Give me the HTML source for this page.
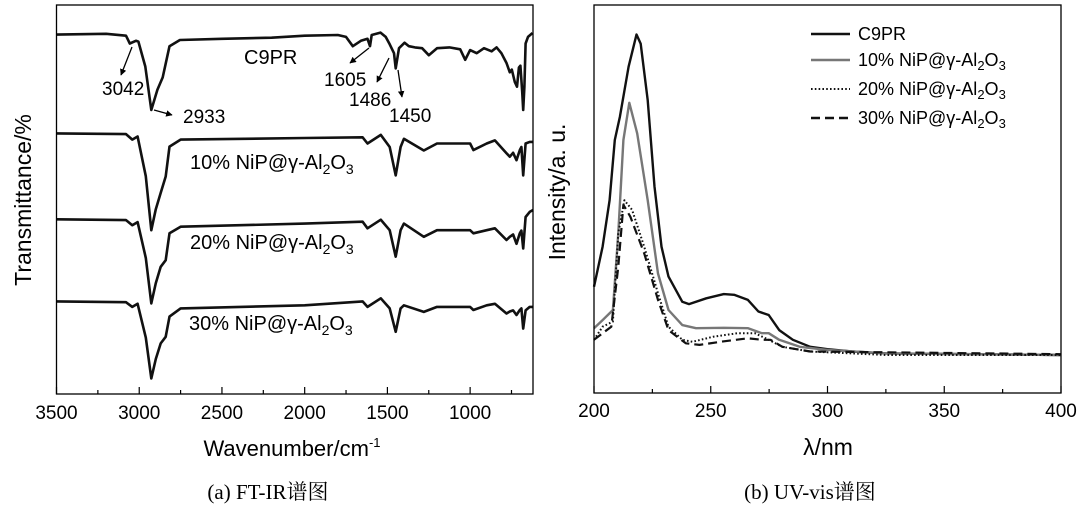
<!DOCTYPE html>
<html><head><meta charset="utf-8">
<style>
html,body{margin:0;padding:0;background:#fff;}
svg{display:block;font-family:"Liberation Sans","Noto Sans CJK SC",sans-serif;}
.cap{font-family:"Liberation Serif","Noto Serif CJK SC",serif;}
</style></head>
<body>
<svg id="fig" width="1083" height="511" viewBox="0 0 1083 511">
  <g id="ir"></g>
  <g id="uv"></g>
</svg>
<script>
// ---------- FT-IR data ----------
const irTicks = [3500,3000,2500,2000,1500,1000];
const irWn0 = [3500,3200,3080,3057,3020,3005,2963,2927,2890,2858,2817,2754,2500,2200,2000,1800,1750,1709,1660,1620,1605,1595,1542,1510,1486,1460,1450,1430,1396,1370,1334,1290,1250,1200,1125,1060,1030,1000,960,916,870,840,811,780,760,748,730,717,705,696,685,679,672,665,650,623];
const irC9PR = [92.4,92.6,92.1,90.1,90.8,90.6,84.2,73.0,78.2,81.4,89.4,91.0,91.3,91.6,92.1,92.3,91.8,89.4,90.8,91.3,89.4,92.3,92.9,91.8,89.9,87.6,83.7,88.9,90.3,89.4,89.1,88.9,87.1,88.9,89.1,88.6,85.9,88.4,87.6,88.9,88.1,89.1,87.6,85.1,82.7,83.4,80.2,79.0,83.9,84.4,77.7,73.0,79.0,90.1,91.8,92.8];
const irWn1 = [3500,3080,3042,3010,2960,2927,2900,2870,2840,2817,2750,2000,1650,1620,1540,1486,1450,1420,1400,1280,1200,1000,980,900,850,780,760,740,720,700,690,679,665,640,620];
const ir10 = [67.0,66.8,65.4,66.2,56.0,42.1,47.5,51.7,55.9,63.6,65.4,65.8,66.0,64.4,66.6,63.5,56.2,63.5,65.6,62.6,64.4,64.4,62.7,64.4,65.2,61.9,61.0,62.0,60.1,62.7,63.5,56.2,64.4,64.8,64.8];
const ir20 = [44.9,44.7,43.4,44.2,35.0,23.3,28.5,32.7,34.4,41.3,43.0,43.8,44.3,42.6,44.8,42.1,35.3,42.1,43.8,40.4,42.1,42.1,41.3,42.1,42.6,39.6,40.4,41.0,38.6,41.3,42.0,37.4,45.5,46.8,47.3];
const ir30 = [23.8,23.6,22.4,23.2,14.5,4.0,9.0,13.0,14.7,19.9,22.0,22.8,23.8,22.4,24.6,22.0,16.0,22.0,22.8,21.1,22.4,22.4,21.6,22.8,23.2,20.7,21.2,21.5,20.3,21.6,22.0,16.8,21.5,22.4,22.4];

// ---------- UV-vis data ----------
const uvTicks = [200,250,300,350,400];
const uvWl0 = [200,203.7,206.7,208.9,211.1,214.8,218.2,220,223,225.9,228.9,231.9,237.8,240.7,248.1,255.6,260,265.9,270.4,274.8,279.3,285.2,292.6,300,310.4,325.2,400];
const uvC9PR = [27.4,37.7,49.7,65.2,71.2,84.1,92.4,90,75.5,53.2,37.7,30,23.5,22.9,24.4,25.5,25.3,24,21,20.1,16.2,13.7,11.9,11.3,10.7,10.2,9.8];
const uvWl1 = [200,203.7,208.1,210.4,212.6,215.1,218.5,223,227.4,231.9,237.8,243.7,255.6,266,271.9,274.8,279.3,288.1,300,325.2,400];
const uv10 = [16.7,18.8,21.4,41.2,65.2,74.8,66.9,49.7,30.8,21.4,17.5,16.7,16.8,16.7,15.4,15.4,13.7,11.9,11.1,10.2,9.8];
const uvWl2 = [200,203.7,208.1,210.4,213,216.3,221.5,227.4,231.9,237.8,242.2,251.1,261.5,268.9,274.8,280.7,292.6,325.2,400];
const uv20 = [13.7,17.1,18.4,41.2,49.7,47.2,37.7,25.7,17.1,13.7,13.2,14.5,15.4,15.4,13.7,11.9,10.7,9.8,9.8];
const uvWl3 = [200,203.7,207.4,210.4,212.6,215.6,221.5,227.4,231.9,239.3,245.2,254.1,265.9,271.9,275.6,280.7,292.6,400];
const uv30 = [13.7,15.4,17.1,32.6,48.5,45.4,36,24,16.2,12.8,12.4,13.2,14.1,13.7,13.7,11.9,10.7,10];

const NS='http://www.w3.org/2000/svg';
function mk(parent,tag,attrs,text){const e=document.createElementNS(NS,tag);for(const k in attrs)e.setAttribute(k,attrs[k]);if(text!==undefined)e.textContent=text;parent.appendChild(e);return e;}

// ----- IR axes -----
const irG=document.getElementById('ir');
const IRL=56.5,IRR=533,IRT=5,IRB=394;
const irX=w=>IRL+(3500-w)/(3500-620)*(IRR-IRL);
const irY=v=>IRB-v/100*(IRB-IRT);
function irPath(wn,vals,name){
  let d='';wn.forEach((w,i)=>{d+=(i?'L':'M')+irX(w).toFixed(1)+','+irY(vals[i]).toFixed(1);});
  const p=mk(irG,'path',{d:d,fill:'none',stroke:'#111','stroke-width':2.6,'stroke-linejoin':'round'});
  
  
}
irPath(irWn0,irC9PR,'c9pr-ir-line');
irPath(irWn1,ir10,'ni10-ir-line');
irPath(irWn1,ir20,'ni20-ir-line');
irPath(irWn1,ir30,'ni30-ir-line');
const irFrame=mk(irG,'rect',{x:IRL,y:IRT,width:IRR-IRL,height:IRB-IRT,fill:'none',stroke:'#000','stroke-width':1.3});


for(let w=3500;w>=750;w-=250){
  const major=(w%500===0);
  const t=mk(irG,'line',{x1:irX(w),x2:irX(w),y1:IRB,y2:IRB-(major?7:4),stroke:'#000','stroke-width':1.2});
  
  
}
irTicks.forEach(w=>{
  const t=mk(irG,'text',{x:irX(w),y:419,'font-size':19,'text-anchor':'middle'},String(w));
  
  
});
</script>
<script>
(function(){
const g=document.getElementById('ir');
g.insertAdjacentHTML('beforeend',`
<text x="292" y="456" font-size="22" text-anchor="middle">Wavenumber/cm<tspan dy="-9" font-size="13">-1</tspan></text>
<text transform="translate(31,200) rotate(-90)" font-size="23" text-anchor="middle">Transmittance/%</text>
<text class="cap" x="268" y="499" font-size="21" text-anchor="middle">(a) FT-IR谱图</text>
<text x="244" y="64" font-size="20">C9PR</text>
<text x="190" y="169" font-size="20">10% NiP@γ-Al<tspan dy="5" font-size="14">2</tspan><tspan dy="-5">O</tspan><tspan dy="5" font-size="14">3</tspan></text>
<text x="190" y="249" font-size="20">20% NiP@γ-Al<tspan dy="5" font-size="14">2</tspan><tspan dy="-5">O</tspan><tspan dy="5" font-size="14">3</tspan></text>
<text x="189" y="330" font-size="20">30% NiP@γ-Al<tspan dy="5" font-size="14">2</tspan><tspan dy="-5">O</tspan><tspan dy="5" font-size="14">3</tspan></text>
<text x="102" y="95" font-size="19">3042</text>
<text x="183" y="123" font-size="19">2933</text>
<text x="324" y="86" font-size="19">1605</text>
<text x="349" y="106" font-size="19">1486</text>
<text x="389" y="122" font-size="19">1450</text>
<defs><marker id="ah" viewBox="0 0 10 10" refX="9" refY="5" markerWidth="5" markerHeight="5" orient="auto"><path d="M0,0L10,5L0,10z" fill="#000"/></marker></defs>
<g stroke="#000" stroke-width="1.3" marker-end="url(#ah)">
<line x1="132" y1="47" x2="121" y2="75"/>
<line x1="154" y1="110" x2="172" y2="115"/>
<line x1="369" y1="48" x2="350" y2="63"/>
<line x1="389" y1="58" x2="377" y2="82"/>
<line x1="398" y1="70" x2="402" y2="97"/>
</g>`);
})();
</script>
<script>
// ----- UV axes -----
const uvG=document.getElementById('uv');
const UL=594,UR=1061,UT=5,UB=393;
const uvX=w=>UL+(w-200)/200*(UR-UL);
const uvY=v=>UB-v/100*(UB-UT);
function uvPath(wl,vals,name,stroke,dash,width){
  let d='';wl.forEach((w,i)=>{d+=(i?'L':'M')+uvX(w).toFixed(1)+','+uvY(vals[i]).toFixed(1);});
  const a={d:d,fill:'none',stroke:stroke,'stroke-width':width,'stroke-linejoin':'round'};
  if(dash)a['stroke-dasharray']=dash;
  const p=mk(uvG,'path',a);
  
  
}
uvPath(uvWl0,uvC9PR,'c9pr-uv-line','#111',null,2.4);
uvPath(uvWl1,uv10,'ni10-uv-line','#777',null,2.4);
uvPath(uvWl3,uv30,'ni30-uv-line','#111','9,5',2.2);
uvPath(uvWl2,uv20,'ni20-uv-line','#111','1.6,2.2',2);
const uvFrame=mk(uvG,'rect',{x:UL,y:UT,width:UR-UL,height:UB-UT,fill:'none',stroke:'#000','stroke-width':1.3});


for(let w=200;w<=400;w+=25){
  const major=(w%50===0);
  const t=mk(uvG,'line',{x1:uvX(w),x2:uvX(w),y1:UB,y2:UB-(major?7:4),stroke:'#000','stroke-width':1.2});
  
  
}
uvTicks.forEach(w=>{
  const t=mk(uvG,'text',{x:uvX(w),y:417,'font-size':19,'text-anchor':'middle'},String(w));
  
  
});
uvG.insertAdjacentHTML('beforeend',`
<text x="828" y="455" font-size="23" text-anchor="middle">λ/nm</text>
<text transform="translate(565,192) rotate(-90)" font-size="23" text-anchor="middle">Intensity/a. u.</text>
<text class="cap" x="810" y="499" font-size="21" text-anchor="middle">(b) UV-vis谱图</text>
<g font-size="18">
 <g><line x1="811" x2="850" y1="34" y2="34" stroke="#111" stroke-width="2.4"/><text x="858" y="40">C9PR</text></g>
 <g><line x1="811" x2="850" y1="60" y2="60" stroke="#777" stroke-width="2.4"/><text x="858" y="66">10% NiP@γ-Al<tspan dy="4" font-size="13">2</tspan><tspan dy="-4">O</tspan><tspan dy="4" font-size="13">3</tspan></text></g>
 <g><line x1="811" x2="850" y1="89" y2="89" stroke="#111" stroke-width="2" stroke-dasharray="1.6,2.2"/><text x="858" y="95">20% NiP@γ-Al<tspan dy="4" font-size="13">2</tspan><tspan dy="-4">O</tspan><tspan dy="4" font-size="13">3</tspan></text></g>
 <g><line x1="811" x2="850" y1="118" y2="118" stroke="#111" stroke-width="2.4" stroke-dasharray="9,5"/><text x="858" y="124">30% NiP@γ-Al<tspan dy="4" font-size="13">2</tspan><tspan dy="-4">O</tspan><tspan dy="4" font-size="13">3</tspan></text></g>
</g>`);
</script>
</body></html>
